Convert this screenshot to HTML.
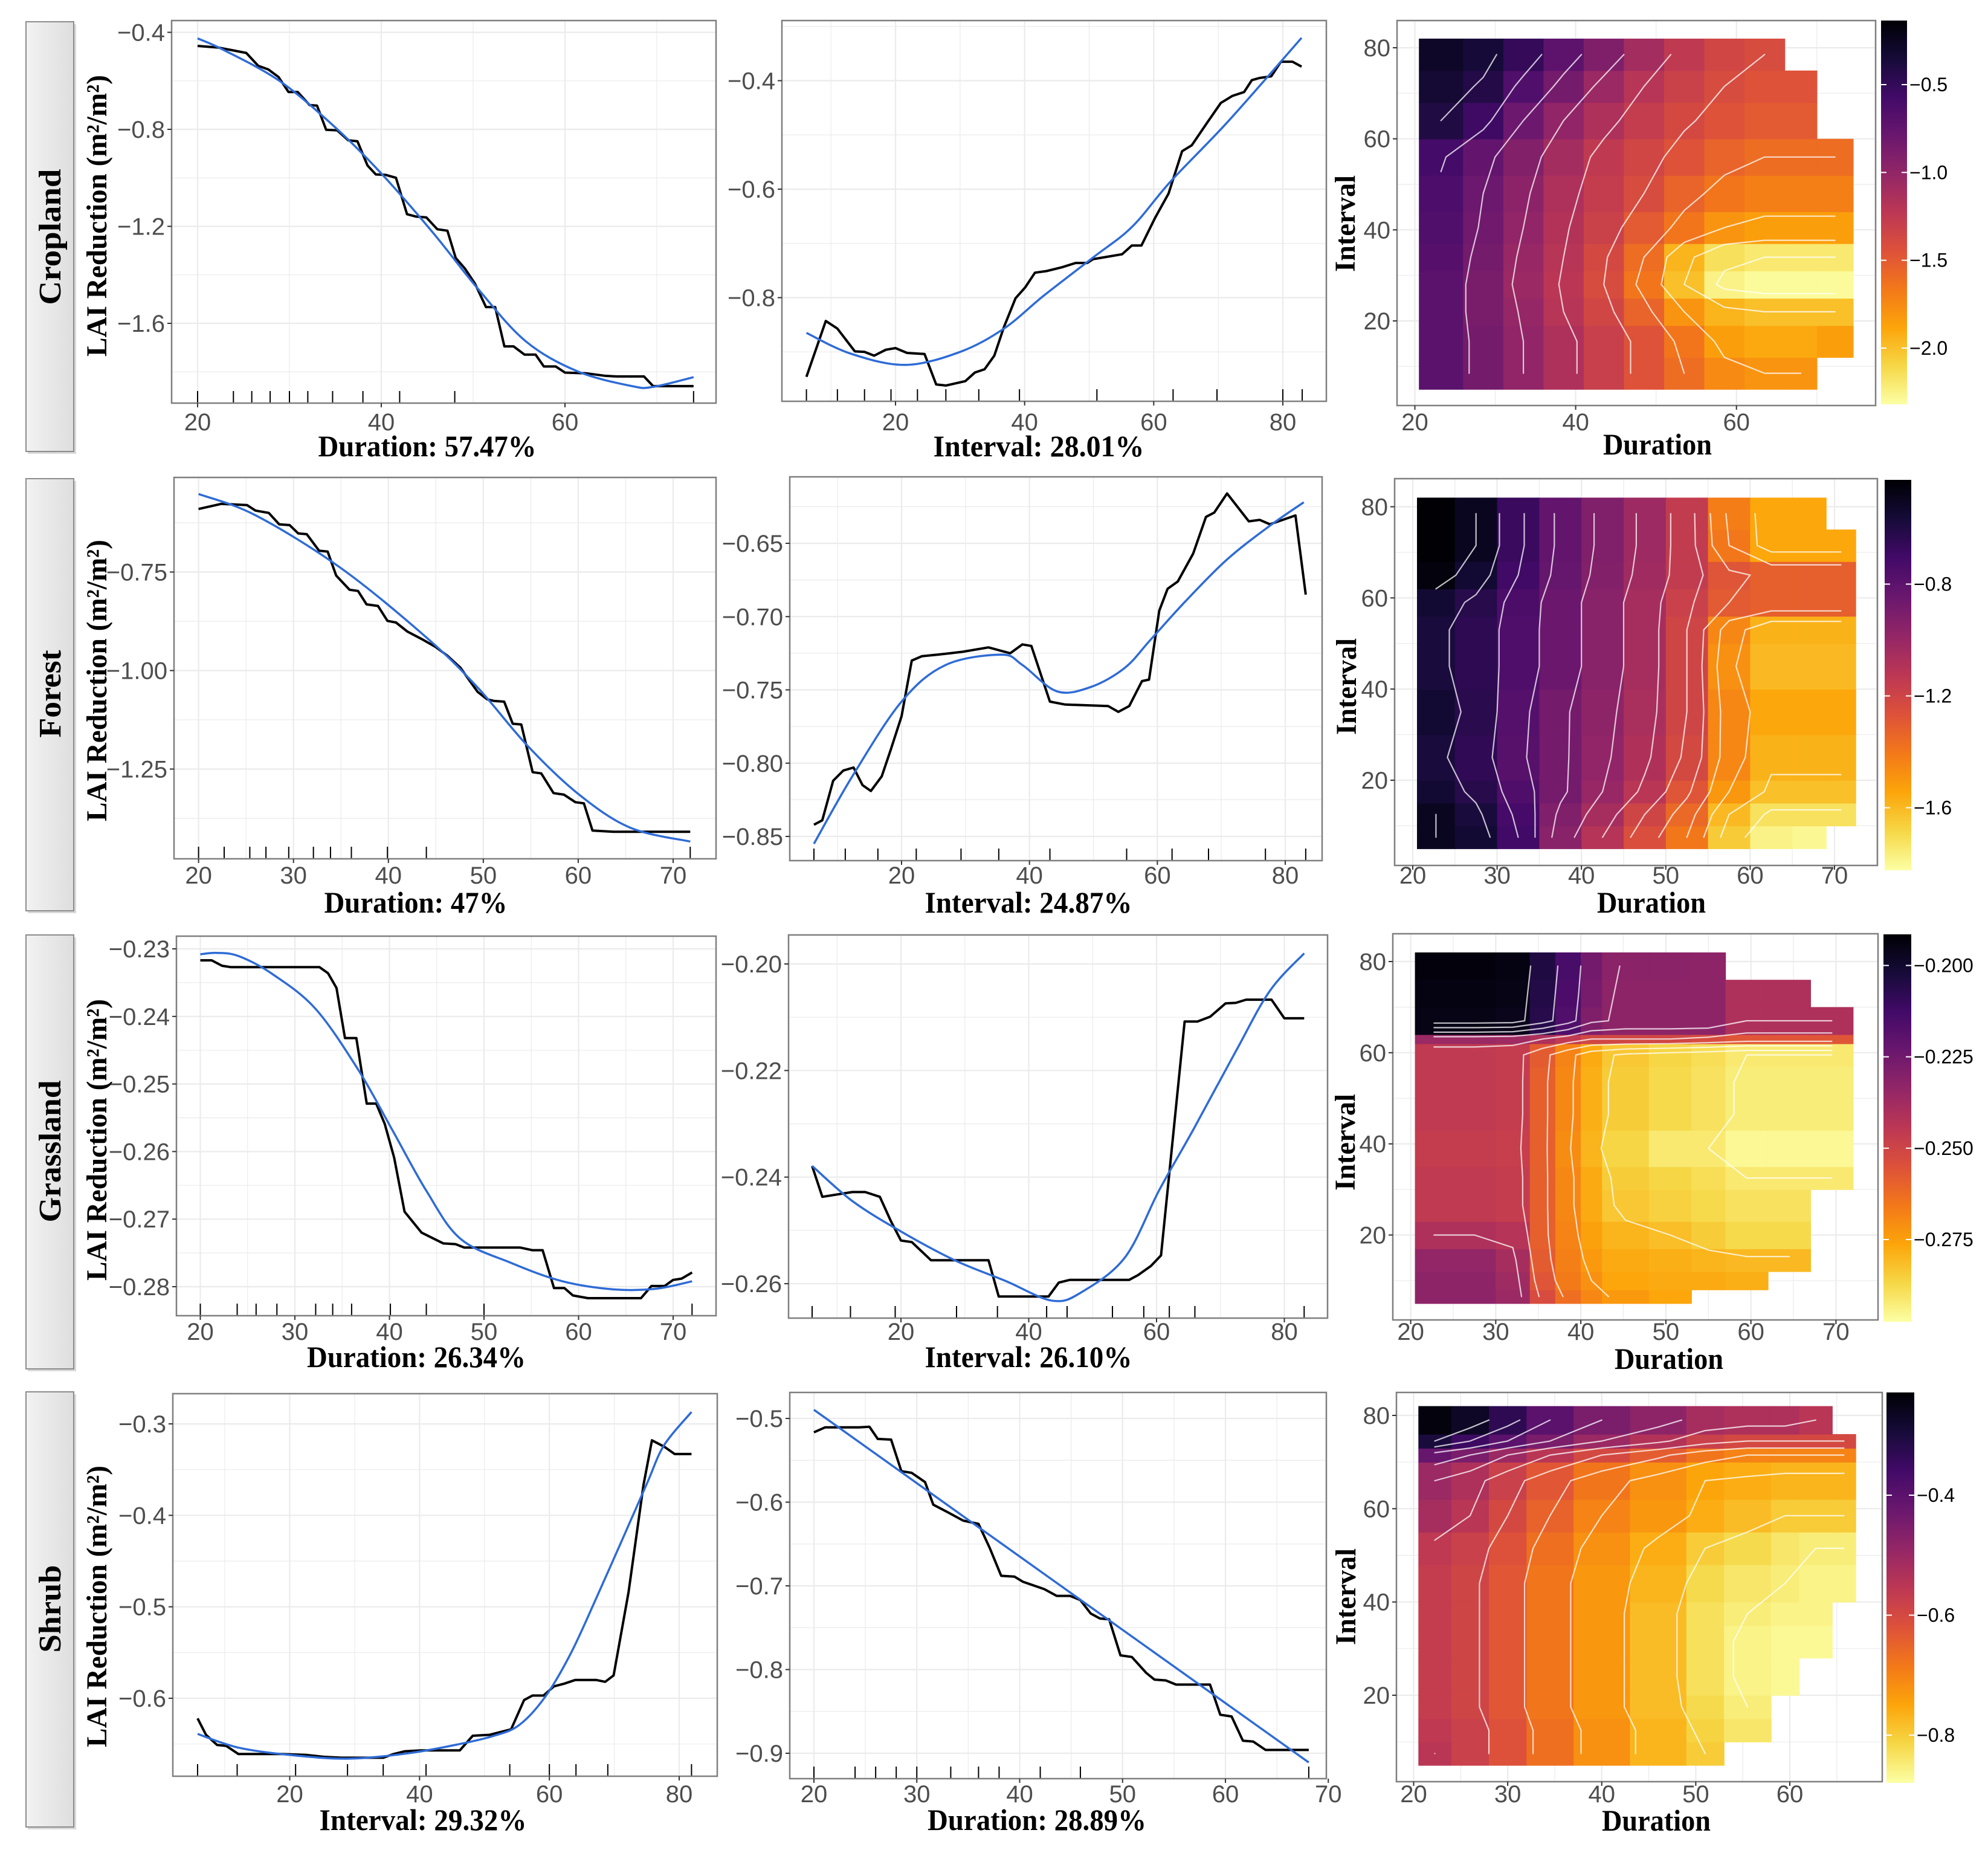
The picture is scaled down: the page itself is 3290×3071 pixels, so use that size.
<!DOCTYPE html>
<html><head><meta charset="utf-8"><style>
html,body{margin:0;padding:0;background:#fff;}
svg{display:block;}
</style></head><body>
<svg id="fig" xmlns="http://www.w3.org/2000/svg" width="3290" height="3071" viewBox="0 0 3290 3071">
<defs>
<linearGradient id="stripGrad" x1="0" x2="1" y1="0" y2="0"><stop offset="0" stop-color="#f2f2f2"/><stop offset="1" stop-color="#dedede"/></linearGradient>
<linearGradient id="cbGrad" x1="0" x2="0" y1="1" y2="0">
<stop offset="0" stop-color="#fcffa4"/><stop offset="0.1" stop-color="#f6d746"/><stop offset="0.2" stop-color="#fca50a"/><stop offset="0.3" stop-color="#f37819"/><stop offset="0.4" stop-color="#dd513a"/><stop offset="0.5" stop-color="#bc3754"/><stop offset="0.6" stop-color="#932667"/><stop offset="0.7" stop-color="#6a176e"/><stop offset="0.8" stop-color="#420a68"/><stop offset="0.9" stop-color="#160b39"/><stop offset="1" stop-color="#000004"/>
</linearGradient>
</defs>
</svg>
<script>
// ---------- DATA ----------
const r1c1_x=[20,22.3,25.3,26.6,27.7,28.8,29.9,30.9,32.2,33,34,35.2,36.4,37.4,38.5,39.4,40.5,41.6,42.8,43.8,44.9,46.1,47.2,48.1,49.1,50.2,51.4,52.4,53.4,54.4,55.6,56.8,57.7,59,60,62.3,64.3,65.6,68.6,69.6,74];
const r1c1_y=[-0.456,-0.463,-0.485,-0.538,-0.553,-0.584,-0.646,-0.646,-0.700,-0.702,-0.802,-0.804,-0.845,-0.849,-0.949,-0.986,-0.988,-1.000,-1.150,-1.160,-1.163,-1.212,-1.218,-1.330,-1.374,-1.436,-1.533,-1.533,-1.695,-1.695,-1.729,-1.729,-1.778,-1.778,-1.803,-1.806,-1.816,-1.819,-1.819,-1.859,-1.859];
const r1c1_fx=[20,22.8,28.9,34.9,40,45.6,50.6,55.7,61.3,67.3,69.6,74];
const r1c1_fy=[-0.425,-0.472,-0.600,-0.789,-0.982,-1.225,-1.461,-1.673,-1.797,-1.859,-1.862,-1.822];
const r1c1_rug=[20,23.9,25.9,27.9,30,32,34.7,38,42,48,74];

const r1c2_x=[6.2,9.2,11,13.7,15.2,16.7,18.5,20,21.8,24.5,26.3,27.8,30.8,32.3,33.8,35.3,36.8,38.6,40.1,41.6,43.4,45.8,47.9,49.7,50.6,52.1,55.1,56.6,58.1,60.2,62.3,64.4,65.9,68.3,70.4,72.2,74,75.2,76.4,78.2,79.7,81.5,82.9];
const r1c2_y=[-0.946,-0.843,-0.857,-0.899,-0.900,-0.907,-0.896,-0.893,-0.902,-0.904,-0.960,-0.962,-0.954,-0.938,-0.932,-0.907,-0.854,-0.801,-0.781,-0.754,-0.751,-0.744,-0.736,-0.736,-0.729,-0.726,-0.720,-0.704,-0.704,-0.653,-0.608,-0.530,-0.519,-0.477,-0.441,-0.428,-0.421,-0.399,-0.395,-0.392,-0.365,-0.365,-0.374];
const r1c2_fx=[6.2,13,21.5,30,36.8,43,50.6,56.6,62.6,71.6,82.9];
const r1c2_fy=[-0.865,-0.903,-0.924,-0.900,-0.857,-0.796,-0.726,-0.670,-0.586,-0.474,-0.321];
const r1c2_rug=[6.2,11,15.2,19.3,23.4,27.8,32.9,39.2,51.2,63,69.8,80,83];

const r2c1_x=[20,22.4,25.1,26,27.4,28.5,29.6,30.5,31.4,32.7,33.6,34.5,35.9,36.8,37.7,38.9,39.9,40.8,42,43.5,44.9,46.2,47.6,48.5,49.4,50.4,51.1,52.2,53.1,54,55.2,56.1,57.4,58.5,59.7,60.6,61.5,63.7,71.8];
const r2c1_y=[-0.590,-0.577,-0.580,-0.594,-0.600,-0.629,-0.631,-0.652,-0.654,-0.696,-0.698,-0.759,-0.795,-0.798,-0.832,-0.836,-0.874,-0.878,-0.901,-0.920,-0.939,-0.962,-0.993,-1.024,-1.054,-1.073,-1.077,-1.079,-1.135,-1.137,-1.258,-1.261,-1.311,-1.315,-1.334,-1.337,-1.406,-1.409,-1.409];
const r2c1_fx=[20,26,35,44,49.4,54.7,60.1,65.5,71.8];
const r2c1_fy=[-0.552,-0.606,-0.740,-0.916,-1.043,-1.192,-1.315,-1.399,-1.434];
const r2c1_rug=[20,22.7,25.4,27.1,29.5,32.1,33.9,36.1,39.9,44,71.8];

const r2c2_x=[6.3,7.6,9.3,10.9,12.5,13.9,15.2,16.9,18.3,20,21.6,23.2,25.6,27.6,29.6,33.6,37,38.9,40.3,43.2,45.6,52.3,53.9,55.6,57.6,58.7,60.3,61.6,63.2,65.6,67.6,68.9,70.9,74.3,76,77.6,81.6,83.2];
const r2c2_y=[-0.842,-0.839,-0.812,-0.805,-0.803,-0.815,-0.819,-0.809,-0.791,-0.768,-0.730,-0.727,-0.726,-0.725,-0.724,-0.721,-0.725,-0.719,-0.720,-0.758,-0.760,-0.761,-0.765,-0.761,-0.744,-0.743,-0.696,-0.681,-0.676,-0.657,-0.632,-0.629,-0.616,-0.635,-0.634,-0.637,-0.631,-0.685];
const r2c2_fx=[6.3,12.3,20,26.9,35.6,38.9,44.3,49.6,54.9,58.9,64.3,70.9,77.6,82.9];
const r2c2_fy=[-0.855,-0.809,-0.758,-0.733,-0.726,-0.733,-0.751,-0.748,-0.735,-0.716,-0.690,-0.661,-0.638,-0.622];
const r2c2_rug=[6.3,11.2,16.3,22.3,29.3,35.2,43.2,55.2,62.3,68,76.9,83.2];

const r3c1_x=[20,21.2,22.3,23.2,32.6,33.5,34.4,35.3,36.5,37.6,38.6,39.5,40.5,41.6,43.4,45.7,47,47.9,53.8,55.1,56.2,57.4,58.5,59.4,61,66.6,67.7,69.1,70,70.9,72];
const r3c1_y=[-0.2317,-0.2317,-0.2325,-0.2327,-0.2327,-0.2336,-0.2358,-0.2432,-0.2432,-0.2529,-0.2529,-0.2559,-0.2609,-0.2689,-0.2720,-0.2736,-0.2737,-0.2742,-0.2742,-0.2746,-0.2746,-0.2802,-0.2802,-0.2813,-0.2817,-0.2817,-0.2799,-0.2799,-0.2790,-0.2788,-0.2779];
const r3c1_fx=[20,21.8,24.1,27.7,32.2,36.7,40.3,43.9,47.5,52.9,58.3,63.7,68.2,72];
const r3c1_fy=[-0.2308,-0.2306,-0.2311,-0.2338,-0.2389,-0.2479,-0.2568,-0.2658,-0.2729,-0.2765,-0.2792,-0.2804,-0.2803,-0.2792];
const r3c1_rug=[20,23.9,25.9,28.1,32.2,34,36,40.1,43.9,50,72];

const r3c2_x=[6.1,7.7,12.4,14.4,16.7,18.4,20,21.7,24.7,33.7,35.3,43.1,44.7,46.4,55.7,57.1,59.1,60.7,64.4,66.4,68.4,70.8,72.4,74,78,80,83.1];
const r3c2_y=[-0.2379,-0.2437,-0.2428,-0.2428,-0.2437,-0.2482,-0.2519,-0.2522,-0.2556,-0.2556,-0.2624,-0.2624,-0.2598,-0.2593,-0.2593,-0.2584,-0.2567,-0.2547,-0.2108,-0.2108,-0.2099,-0.2074,-0.2073,-0.2067,-0.2067,-0.2102,-0.2102];
const r3c2_fx=[6.1,12.4,20,28.4,36.4,43.7,48.4,55.1,60.4,65.7,72.4,77.7,83.1];
const r3c2_fy=[-0.2379,-0.2445,-0.2502,-0.2556,-0.2595,-0.2632,-0.2615,-0.2550,-0.2425,-0.2312,-0.2164,-0.2051,-0.1980];
const r3c2_rug=[6.1,12.1,19.1,28.7,35.1,42.8,46,53.1,58,62,66,83.1];

const r4c1_x=[5.8,7.1,8.8,10.2,12.1,18.7,22.6,25.2,27.9,34.4,36,37.7,40.3,46.2,48.2,50.8,54.1,56.1,57.4,59.1,60.7,62.3,64,67.2,68.6,69.9,72.2,74.5,75.8,77.7,79.3,81.9];
const r4c1_y=[-0.622,-0.640,-0.651,-0.652,-0.661,-0.661,-0.662,-0.664,-0.665,-0.665,-0.661,-0.658,-0.657,-0.657,-0.641,-0.640,-0.634,-0.602,-0.597,-0.597,-0.587,-0.584,-0.580,-0.580,-0.582,-0.575,-0.484,-0.367,-0.318,-0.325,-0.333,-0.333];
const r4c1_fx=[5.8,12.1,20,29.2,38.4,46.2,51.5,55.4,59.4,63.3,67.2,71.2,75.1,77.7,81.9];
const r4c1_fy=[-0.639,-0.654,-0.662,-0.666,-0.660,-0.650,-0.641,-0.629,-0.598,-0.551,-0.491,-0.427,-0.364,-0.323,-0.287];
const r4c1_rug=[5.8,11.9,20.9,28.9,34.4,41,53.9,60,64.1,69,81.9];

const r4c2_x=[20,21.1,24.4,25.4,26.2,27.5,28.5,29.5,30.8,31.6,33,34.5,36,37.1,38.2,39.5,40.3,42.4,43.6,44.9,45.9,46.9,47.8,48.7,49.8,50.9,52.3,53.1,54.2,55.2,58.5,59.5,60.6,61.7,62.7,63.9,68.1];
const r4c2_y=[-0.5165,-0.5106,-0.5106,-0.510,-0.5245,-0.5253,-0.563,-0.565,-0.576,-0.603,-0.612,-0.622,-0.626,-0.655,-0.688,-0.689,-0.695,-0.704,-0.712,-0.712,-0.717,-0.733,-0.739,-0.740,-0.783,-0.785,-0.804,-0.812,-0.813,-0.818,-0.818,-0.854,-0.856,-0.885,-0.886,-0.896,-0.896];
const r4c2_fx=[20,44,68.1];
const r4c2_fy=[-0.4897,-0.700,-0.911];
const r4c2_rug=[20,24,26,28,30,33.3,36,38,42,45.9,68.1];

// tick labels
const r1c1_xt=[20,40,60], r1c1_yt=[-0.4,-0.8,-1.2,-1.6], r1c1_ytl=["\u22120.4","\u22120.8","\u22121.2","\u22121.6"];
const r1c2_xt=[20,40,60,80], r1c2_yt=[-0.4,-0.6,-0.8], r1c2_ytl=["\u22120.4","\u22120.6","\u22120.8"];
const r2c1_xt=[20,30,40,50,60,70], r2c1_yt=[-0.75,-1.0,-1.25], r2c1_ytl=["\u22120.75","\u22121.00","\u22121.25"];
const r2c2_xt=[20,40,60,80], r2c2_yt=[-0.65,-0.70,-0.75,-0.80,-0.85], r2c2_ytl=["\u22120.65","\u22120.70","\u22120.75","\u22120.80","\u22120.85"];
const r3c1_xt=[20,30,40,50,60,70], r3c1_yt=[-0.23,-0.24,-0.25,-0.26,-0.27,-0.28], r3c1_ytl=["\u22120.23","\u22120.24","\u22120.25","\u22120.26","\u22120.27","\u22120.28"];
const r3c2_xt=[20,40,60,80], r3c2_yt=[-0.20,-0.22,-0.24,-0.26], r3c2_ytl=["\u22120.20","\u22120.22","\u22120.24","\u22120.26"];
const r4c1_xt=[20,40,60,80], r4c1_yt=[-0.3,-0.4,-0.5,-0.6], r4c1_ytl=["\u22120.3","\u22120.4","\u22120.5","\u22120.6"];
const r4c2_xt=[20,30,40,50,60,70], r4c2_yt=[-0.5,-0.6,-0.7,-0.8,-0.9], r4c2_ytl=["\u22120.5","\u22120.6","\u22120.7","\u22120.8","\u22120.9"];

// heatmaps
const h1_dur=[20.5,26,31,36,41,46,51,56,61,66,70,74.5];
const h1_int=[5,12,19,25,31,37,44,52,60,68,75,82];
const h1_val=[
[-0.70,-0.85,-1.00,-1.15,-1.30,-1.45,-1.60,-1.75,-1.80,-1.80,null],
[-0.70,-0.85,-1.00,-1.15,-1.30,-1.45,-1.65,-1.85,-1.90,-1.90,-1.85],
[-0.70,-0.87,-1.02,-1.20,-1.35,-1.55,-1.80,-1.95,-2.00,-2.00,-2.00],
[-0.70,-0.87,-1.05,-1.22,-1.40,-1.65,-2.00,-2.25,-2.30,-2.30,-2.30],
[-0.68,-0.85,-1.03,-1.20,-1.38,-1.60,-1.95,-2.15,-2.20,-2.20,-2.20],
[-0.65,-0.82,-1.00,-1.18,-1.32,-1.50,-1.65,-1.80,-1.85,-1.85,-1.85],
[-0.63,-0.80,-0.97,-1.15,-1.28,-1.40,-1.55,-1.65,-1.70,-1.70,-1.70],
[-0.58,-0.75,-0.92,-1.10,-1.25,-1.35,-1.45,-1.55,-1.60,-1.60,-1.60],
[-0.40,-0.55,-0.80,-1.00,-1.15,-1.28,-1.38,-1.45,-1.50,-1.50,null],
[-0.33,-0.42,-0.65,-0.85,-1.05,-1.20,-1.32,-1.40,-1.45,-1.45,null],
[-0.28,-0.35,-0.50,-0.72,-0.90,-1.10,-1.25,-1.35,-1.40,null,null]];
const h1_cb=[-0.5,-1.0,-1.5,-2.0], h1_cbl=["\u22120.5","\u22121.0","\u22121.5","\u22122.0"], h1_xt=[20,40,60], h1_yt=[20,40,60,80];
const h1_levels=[-0.4,-0.6,-0.8,-1.0,-1.2,-1.4,-1.6,-1.8,-2.0,-2.2];

const h2_dur=[20.5,25,30,35,40,45,50,55,60,65,69,72.5];
const h2_int=[5,10,15,20,30,40,50,56,62,68,75,82];
const h2_val=[
[-0.50,-0.55,-0.70,-0.95,-1.10,-1.25,-1.40,-1.65,-1.78,-1.80,null],
[-0.50,-0.58,-0.72,-0.92,-1.05,-1.20,-1.35,-1.60,-1.72,-1.72,-1.72],
[-0.55,-0.62,-0.75,-0.88,-1.00,-1.12,-1.28,-1.50,-1.62,-1.62,-1.62],
[-0.58,-0.65,-0.78,-0.88,-0.98,-1.08,-1.22,-1.45,-1.58,-1.58,-1.58],
[-0.55,-0.63,-0.77,-0.88,-0.97,-1.06,-1.20,-1.45,-1.55,-1.55,-1.55],
[-0.58,-0.64,-0.75,-0.85,-0.95,-1.05,-1.20,-1.48,-1.60,-1.60,-1.60],
[-0.58,-0.64,-0.75,-0.85,-0.95,-1.05,-1.20,-1.45,-1.58,-1.58,-1.58],
[-0.55,-0.62,-0.74,-0.85,-0.95,-1.05,-1.18,-1.30,-1.32,-1.32,-1.32],
[-0.45,-0.55,-0.70,-0.83,-0.93,-1.03,-1.15,-1.28,-1.32,-1.32,-1.32],
[-0.43,-0.50,-0.68,-0.82,-0.92,-1.02,-1.15,-1.40,-1.55,-1.55,-1.55],
[-0.43,-0.50,-0.68,-0.82,-0.92,-1.02,-1.15,-1.42,-1.55,-1.55,null]];
const h2_cb=[-0.8,-1.2,-1.6], h2_cbl=["\u22120.8","\u22121.2","\u22121.6"], h2_xt=[20,30,40,50,60,70], h2_yt=[20,40,60,80];
const h2_levels=[-0.5,-0.6,-0.7,-0.8,-0.9,-1.0,-1.1,-1.2,-1.3,-1.4,-1.5,-1.6,-1.7];

const h3_dur=[20.5,25,30,34,37,40,42.5,48,53,57,62,67,72];
const h3_int=[5,8,12,17,23,30,35,43,50,57,62,64,70,76,82];
const h3_val=[
[-0.232,-0.232,-0.235,-0.252,-0.262,-0.268,-0.272,-0.275,null,null,null,null],
[-0.232,-0.232,-0.236,-0.255,-0.265,-0.270,-0.275,-0.276,-0.276,-0.277,null,null],
[-0.233,-0.233,-0.238,-0.257,-0.266,-0.272,-0.276,-0.277,-0.278,-0.279,-0.279,null],
[-0.240,-0.240,-0.242,-0.258,-0.267,-0.274,-0.278,-0.280,-0.283,-0.286,-0.286,null],
[-0.245,-0.245,-0.246,-0.258,-0.268,-0.276,-0.282,-0.284,-0.286,-0.288,-0.288,null],
[-0.245,-0.245,-0.246,-0.258,-0.268,-0.276,-0.283,-0.285,-0.287,-0.290,-0.290,-0.290],
[-0.246,-0.246,-0.247,-0.258,-0.269,-0.278,-0.285,-0.290,-0.290,-0.294,-0.294,-0.294],
[-0.245,-0.245,-0.246,-0.258,-0.268,-0.277,-0.283,-0.286,-0.288,-0.291,-0.291,-0.291],
[-0.245,-0.245,-0.246,-0.258,-0.268,-0.277,-0.283,-0.286,-0.288,-0.291,-0.291,-0.291],
[-0.245,-0.245,-0.246,-0.257,-0.267,-0.276,-0.282,-0.285,-0.287,-0.290,-0.290,-0.290],
[-0.235,-0.235,-0.236,-0.240,-0.245,-0.250,-0.250,-0.250,-0.252,-0.255,-0.255,-0.255],
[-0.195,-0.195,-0.196,-0.206,-0.216,-0.228,-0.232,-0.232,-0.232,-0.240,-0.240,-0.240],
[-0.194,-0.194,-0.195,-0.205,-0.215,-0.226,-0.232,-0.232,-0.232,-0.240,-0.240,null],
[-0.193,-0.193,-0.194,-0.204,-0.214,-0.225,-0.231,-0.231,-0.232,null,null,null]];
const h3_cb=[-0.200,-0.225,-0.250,-0.275], h3_cbl=["\u22120.200","\u22120.225","\u22120.250","\u22120.275"], h3_xt=[20,30,40,50,60,70], h3_yt=[20,40,60,80];
const h3_levels=[-0.20,-0.21,-0.22,-0.23,-0.24,-0.25,-0.26,-0.27,-0.28,-0.29];

const h4_dur=[20.5,24,28,32,37,43,49,53,58,61,64.5,67];
const h4_int=[5,10,15,20,28,35,40,48,55,62,70,73,76,82];
const h4_val=[
[-0.55,-0.58,-0.62,-0.67,-0.72,-0.77,-0.80,null,null,null,null],
[-0.56,-0.58,-0.62,-0.67,-0.72,-0.77,-0.81,-0.84,null,null,null],
[-0.57,-0.59,-0.63,-0.68,-0.73,-0.78,-0.82,-0.85,null,null,null],
[-0.57,-0.59,-0.63,-0.68,-0.73,-0.78,-0.83,-0.86,-0.87,null,null],
[-0.57,-0.59,-0.63,-0.68,-0.73,-0.78,-0.83,-0.86,-0.87,-0.87,null],
[-0.57,-0.59,-0.63,-0.68,-0.73,-0.78,-0.83,-0.85,-0.86,-0.86,null],
[-0.57,-0.59,-0.63,-0.68,-0.73,-0.77,-0.82,-0.84,-0.85,-0.86,-0.86],
[-0.56,-0.58,-0.62,-0.67,-0.72,-0.76,-0.80,-0.82,-0.84,-0.85,-0.85],
[-0.52,-0.55,-0.60,-0.65,-0.70,-0.73,-0.76,-0.78,-0.80,-0.80,-0.80],
[-0.50,-0.53,-0.58,-0.63,-0.68,-0.72,-0.75,-0.76,-0.77,-0.77,-0.77],
[-0.42,-0.45,-0.50,-0.55,-0.60,-0.64,-0.68,-0.70,-0.70,-0.70,-0.70],
[-0.30,-0.35,-0.40,-0.45,-0.50,-0.54,-0.58,-0.60,-0.60,-0.60,-0.60],
[-0.24,-0.27,-0.33,-0.40,-0.45,-0.48,-0.52,-0.53,-0.53,-0.55,null]];
const h4_cb=[-0.4,-0.6,-0.8], h4_cbl=["\u22120.4","\u22120.6","\u22120.8"], h4_xt=[20,30,40,50,60], h4_yt=[20,40,60,80];
const h4_levels=[-0.30,-0.35,-0.40,-0.45,-0.50,-0.55,-0.60,-0.65,-0.70,-0.75,-0.80,-0.85];

// ---------- RENDER ----------
const NS="http://www.w3.org/2000/svg";
const svg=document.getElementById('fig');
function mk(tag,attrs,parent){const e=document.createElementNS(NS,tag);for(const k in attrs)e.setAttribute(k,attrs[k]);(parent||svg).appendChild(e);return e;}
function lin(d0,p0,d1,p1){return v=>p0+(v-d0)*(p1-p0)/(d1-d0);}
function inferno(t){
 const st=["#000004","#160b39","#420a68","#6a176e","#932667","#bc3754","#dd513a","#f37819","#fca50a","#f6d746","#fcffa4"];
 t=Math.max(0,Math.min(1,t));const f=t*10,i=Math.min(9,Math.floor(f)),u=f-i;
 const a=st[i],b=st[i+1];const c=k=>Math.round(parseInt(a.substr(k,2),16)*(1-u)+parseInt(b.substr(k,2),16)*u);
 return `rgb(${c(1)},${c(3)},${c(5)})`;}
function text(str,x,y,size,opts,name){
 const t=mk('text',Object.assign({x:x,y:y,'font-size':size,'font-family':'"Liberation Sans", Arial, sans-serif',fill:'#4d4d4d'},opts||{}));
 t.textContent=str;
 
 
 return t;}
function serif(str,x,y,size,len,rot,name){
 const a={x:0,y:0,'font-size':size,'font-family':'"Liberation Serif", "Times New Roman", serif','font-weight':'bold',fill:'#000','text-anchor':'middle',transform:`translate(${x},${y})`+(rot?' rotate(-90)':'')};
 if(len){a.textLength=len;a.lengthAdjust='spacingAndGlyphs';}
 const t=mk('text',a);t.textContent=str;
 
 
 return t;}
function smoothPath(pts){
 let d=`M${pts[0][0].toFixed(1)},${pts[0][1].toFixed(1)}`;
 for(let i=0;i<pts.length-1;i++){const p0=pts[i-1]||pts[i],p1=pts[i],p2=pts[i+1],p3=pts[i+2]||p2;
  d+=` C${(p1[0]+(p2[0]-p0[0])/6).toFixed(1)},${(p1[1]+(p2[1]-p0[1])/6).toFixed(1)} ${(p2[0]-(p3[0]-p1[0])/6).toFixed(1)},${(p2[1]-(p3[1]-p1[1])/6).toFixed(1)} ${p2[0].toFixed(1)},${p2[1].toFixed(1)}`;}
 return d;}

function gridAndFrame(box,sx,sy,xt,yt,g){
 const [L,T,R,B]=box;
 const dx=xt[1]-xt[0], dy=yt[1]-yt[0];
 const minor=[];
 for(let k=-6;k<=2*xt.length+6;k++){const v=xt[0]+dx*k/2;const p=sx(v);if(p>L&&p<R)minor.push([p,k%2===0]);}
 const ys=[];for(let k=-6;k<=2*yt.length+6;k++){const v=yt[0]+dy*k/2;const p=sy(v);if(p>T&&p<B)ys.push([p,k%2===0]);}
 minor.forEach(m=>{const l=mk('line',{x1:m[0],x2:m[0],y1:T,y2:B,stroke:'#ebebeb','stroke-width':m[1]?2.2:1.2},g);
  
  });
 ys.forEach(m=>{const l=mk('line',{x1:L,x2:R,y1:m[0],y2:m[0],stroke:'#ebebeb','stroke-width':m[1]?2.2:1.2},g);
  
  });
}
function frame(box,g){const [L,T,R,B]=box;
 const r=mk('rect',{x:L,y:T,width:R-L,height:B-T,fill:'none',stroke:'#7f7f7f','stroke-width':2.5},g);
 
 }
function axisLabels(box,sx,sy,xt,xtl,yt,ytl,tickBase,g,ysz){
 const [L,T,R,B]=box;
 xt.forEach((v,i)=>{const t=text(xtl?xtl[i]:String(v),sx(v),tickBase,40,{'text-anchor':'middle'},'x-tick-label');g.appendChild(t);
  const tk=mk('line',{x1:sx(v),x2:sx(v),y1:B,y2:B+7,stroke:'#333','stroke-width':2},g);
  
  });
 yt.forEach((v,i)=>{const t=text(ytl[i],L-11,sy(v)+14,ysz||40,{'text-anchor':'end'},'y-tick-label');g.appendChild(t);
  const tk=mk('line',{x1:L-7,x2:L,y1:sy(v),y2:sy(v),stroke:'#333','stroke-width':2},g);
  
  });
}

const linePanels=[
 {n:'cropland-duration',box:[284,34,1185,667],xs:[20,327,60,935],ys:[-0.4,53.5,-1.6,535],xt:r1c1_xt,yt:r1c1_yt,ytl:r1c1_ytl,bx:r1c1_x,by:r1c1_y,fx:r1c1_fx,fy:r1c1_fy,rug:r1c1_rug,title:'Duration: 57.47%',tx:707,ty:755,tl:361,tb:712},
 {n:'cropland-interval',box:[1294,34,2195,664],xs:[20,1482,80,2123],ys:[-0.4,133.5,-0.8,492.5],xt:r1c2_xt,yt:r1c2_yt,ytl:r1c2_ytl,bx:r1c2_x,by:r1c2_y,fx:r1c2_fx,fy:r1c2_fy,rug:r1c2_rug,title:'Interval: 28.01%',tx:1719,ty:755,tl:349,tb:712},
 {n:'forest-duration',box:[288,790,1185,1421],xs:[20,328.6,70,1114],ys:[-0.75,946.5,-1.25,1272.5],xt:r2c1_xt,yt:r2c1_yt,ytl:r2c1_ytl,bx:r2c1_x,by:r2c1_y,fx:r2c1_fx,fy:r2c1_fy,rug:r2c1_rug,title:'Duration: 47%',tx:688,ty:1510,tl:303,tb:1462},
 {n:'forest-interval',box:[1307,789,2188,1424],xs:[20,1492,80,2127],ys:[-0.65,899,-0.85,1384],xt:r2c2_xt,yt:r2c2_yt,ytl:r2c2_ytl,bx:r2c2_x,by:r2c2_y,fx:r2c2_fx,fy:r2c2_fy,rug:r2c2_rug,title:'Interval: 24.87%',tx:1702,ty:1510,tl:343,tb:1462},
 {n:'grassland-duration',box:[292,1549,1185,2177],xs:[20,331.5,70,1114],ys:[-0.23,1570,-0.28,2129],xt:r3c1_xt,yt:r3c1_yt,ytl:r3c1_ytl,bx:r3c1_x,by:r3c1_y,fx:r3c1_fx,fy:r3c1_fy,rug:r3c1_rug,title:'Duration: 26.34%',tx:689,ty:2262,tl:362,tb:2217},
 {n:'grassland-interval',box:[1305,1547,2197,2181],xs:[20,1491,80,2125.5],ys:[-0.20,1595,-0.26,2124],xt:r3c2_xt,yt:r3c2_yt,ytl:r3c2_ytl,bx:r3c2_x,by:r3c2_y,fx:r3c2_fx,fy:r3c2_fy,rug:r3c2_rug,title:'Interval: 26.10%',tx:1702,ty:2262,tl:343,tb:2217},
 {n:'shrub-interval',box:[286,2306,1187,2939],xs:[20,479.5,80,1124],ys:[-0.3,2356,-0.6,2810],xt:r4c1_xt,yt:r4c1_yt,ytl:r4c1_ytl,bx:r4c1_x,by:r4c1_y,fx:r4c1_fx,fy:r4c1_fy,rug:r4c1_rug,title:'Interval: 29.32%',tx:700,ty:3028,tl:343,tb:2982},
 {n:'shrub-duration',box:[1307,2304,2195,2943],xs:[20,1347,60,2028],ys:[-0.5,2347,-0.9,2901],xt:r4c2_xt,yt:r4c2_yt,ytl:r4c2_ytl,bx:r4c2_x,by:r4c2_y,fx:r4c2_fx,fy:r4c2_fy,rug:r4c2_rug,title:'Duration: 28.89%',tx:1716,ty:3028,tl:362,tb:2982}
];
linePanels.forEach(P=>{
 const g=mk('g',{});
 
 
 const sx=lin(P.xs[0],P.xs[1],P.xs[2],P.xs[3]), sy=lin(P.ys[0],P.ys[1],P.ys[2],P.ys[3]);
 const [L,T,R,B]=P.box;
 const bg=mk('rect',{x:L,y:T,width:R-L,height:B-T,fill:'#fff'},g);
 
 
 gridAndFrame(P.box,sx,sy,P.xt,P.yt,g);
 P.rug.forEach(v=>{const l=mk('line',{x1:sx(v),x2:sx(v),y1:B,y2:B-20,stroke:'#000','stroke-width':2},g);
  
  });
 const pts=P.bx.map((v,i)=>`${sx(v).toFixed(1)},${sy(P.by[i]).toFixed(1)}`).join(' ');
 const pl=mk('polyline',{points:pts,fill:'none',stroke:'#000','stroke-width':4,'stroke-linejoin':'round'},g);
 
 
 const fp=smoothPath(P.fx.map((v,i)=>[sx(v),sy(P.fy[i])]));
 const bl=mk('path',{d:fp,fill:'none',stroke:'#2e6bd6','stroke-width':3.5},g);
 
 
 frame(P.box,g);
 axisLabels(P.box,sx,sy,P.xt,null,P.yt,P.ytl,P.tb,g);
 const tt=serif(P.title,P.tx,P.ty,50,P.tl,false,'x-axis-title');g.appendChild(tt);
});

function contourSegs(dur,int,val,level,sx,sy){
 // cell-center grid
 const cx=[],cy=[];for(let c=0;c<dur.length-1;c++)cx.push(sx((dur[c]+dur[c+1])/2));
 for(let r=0;r<int.length-1;r++)cy.push(sy((int[r]+int[r+1])/2));
 let d='';
 const ip=(a,b,va,vb)=>a+(b-a)*(level-va)/(vb-va);
 for(let r=0;r<val.length-1;r++)for(let c=0;c<val[r].length-1;c++){
  const v0=val[r][c],v1=val[r][c+1],v2=val[r+1][c+1],v3=val[r+1][c];
  if(v0===null||v1===null||v2===null||v3===null)continue;
  const pts=[];
  const edges=[[v0,v1,[cx[c],cy[r]],[cx[c+1],cy[r]]],[v1,v2,[cx[c+1],cy[r]],[cx[c+1],cy[r+1]]],[v2,v3,[cx[c+1],cy[r+1]],[cx[c],cy[r+1]]],[v3,v0,[cx[c],cy[r+1]],[cx[c],cy[r]]]];
  edges.forEach(e=>{const [a,b,pa,pb]=e;if((a<level)!==(b<level)){pts.push([ip(pa[0],pb[0],a,b),ip(pa[1],pb[1],a,b)]);}});
  for(let k=0;k+1<pts.length;k+=2)d+=`M${pts[k][0].toFixed(1)},${pts[k][1].toFixed(1)}L${pts[k+1][0].toFixed(1)},${pts[k+1][1].toFixed(1)}`;
 }
 return d;
}

const heatPanels=[
 {n:'cropland-heatmap',box:[2312,34,3104,671],cb:[3113,34,3156,669],xs:[20,2341.5,60,2873.7],ys:[80,79,20,531],cs:[-0.5,140,-2.0,576],crng:[-2.32,-0.134],dur:h1_dur,int:h1_int,val:h1_val,lev:h1_levels,cbt:h1_cb,cbl:h1_cbl,xt:h1_xt,yt:h1_yt,tx:2743,ty:752,ix:2242,iy:370,tb:712},
 {n:'forest-heatmap',box:[2308,792,3107,1432],cb:[3119,794,3163,1440],xs:[20,2338,70,3036],ys:[80,838.5,20,1291],cs:[-0.8,966.5,-1.6,1336.5],crng:[-1.824,-0.427],dur:h2_dur,int:h2_int,val:h2_val,lev:h2_levels,cbt:h2_cb,cbl:h2_cbl,xt:h2_xt,yt:h2_yt,tx:2733,ty:1510,ix:2244,iy:1136,tb:1462},
 {n:'grassland-heatmap',box:[2305,1545,3108,2184],cb:[3117,1546,3163,2187],xs:[20,2334.6,70,3038.4],ys:[80,1591,20,2043.5],cs:[-0.2,1597.5,-0.275,2051],crng:[-0.2957,-0.1915],dur:h3_dur,int:h3_int,val:h3_val,lev:h3_levels,cbt:h3_cb,cbl:h3_cbl,xt:h3_xt,yt:h3_yt,tx:2762,ty:2265,ix:2242,iy:1890,tb:2217},
 {n:'shrub-heatmap',box:[2311,2304,3115,2948],cb:[3122,2304,3168,2950],xs:[20,2339.5,60,2962],ys:[80,2342,20,2805],cs:[-0.4,2474,-0.8,2871],crng:[-0.880,-0.229],dur:h4_dur,int:h4_int,val:h4_val,lev:h4_levels,cbt:h4_cb,cbl:h4_cbl,xt:h4_xt,yt:h4_yt,tx:2741,ty:3029,ix:2243,iy:2642,tb:2982}
];
heatPanels.forEach(P=>{
 const g=mk('g',{});
 
 
 const sx=lin(P.xs[0],P.xs[1],P.xs[2],P.xs[3]), sy=lin(P.ys[0],P.ys[1],P.ys[2],P.ys[3]);
 const [L,T,R,B]=P.box;
 const bg=mk('rect',{x:L,y:T,width:R-L,height:B-T,fill:'#fff'},g);
 
 
 gridAndFrame(P.box,sx,sy,P.xt,P.yt,g);
 const [vmin,vmax]=P.crng;
 P.val.forEach((row,r)=>row.forEach((v,c)=>{
  if(v===null)return;
  const x0=sx(P.dur[c]),x1=sx(P.dur[c+1]),y0=sy(P.int[r+1]),y1=sy(P.int[r]);
  const cell=mk('rect',{x:x0.toFixed(1),y:y0.toFixed(1),width:(x1-x0+0.8).toFixed(1),height:(y1-y0+0.8).toFixed(1),fill:inferno(1-(v-vmin)/(vmax-vmin))},g);
  
  
 }));
 P.lev.forEach(lv=>{
  const d=contourSegs(P.dur,P.int,P.val,lv,sx,sy);
  if(!d)return;
  const cp=mk('path',{d:d,fill:'none',stroke:'#ffffff','stroke-opacity':0.75,'stroke-width':2.2,'stroke-linecap':'round'},g);
  
  
 });
 frame(P.box,g);
 axisLabels(P.box,sx,sy,P.xt,null,P.yt,P.yt.map(String),P.tb,g);
 const cb=P.cb;
 const cbr=mk('rect',{x:cb[0],y:cb[1],width:cb[2]-cb[0],height:cb[3]-cb[1],fill:'url(#cbGrad)'},g);
 
 
 const cs=lin(P.cs[0],P.cs[1],P.cs[2],P.cs[3]);
 P.cbt.forEach((v,i)=>{const y=cs(v);
  const t1=mk('line',{x1:cb[0],x2:cb[0]+9,y1:y,y2:y,stroke:'#fff','stroke-width':2},g);
  
  
  const t2=mk('line',{x1:cb[2]-9,x2:cb[2],y1:y,y2:y,stroke:'#fff','stroke-width':2},g);
  
  
  const lb=text(P.cbl[i],cb[2]+4,y+11,32,{fill:'#000'},'colorbar-label');g.appendChild(lb);});
 const tt=serif('Duration',P.tx,P.ty,50,180,false,'x-axis-title');g.appendChild(tt);
 const it=serif('Interval',P.ix,P.iy,48,160,true,'y-axis-title');g.appendChild(it);
});

// strips and y titles
const strips=[
 {lab:'Cropland',y0:36,y1:747,cy:392,len:225,yt:357},
 {lab:'Forest',y0:792,y1:1507,cy:1148,len:145,yt:1126},
 {lab:'Grassland',y0:1547,y1:2265,cy:1905,len:235,yt:1886},
 {lab:'Shrub',y0:2303,y1:3023,cy:2662,len:145,yt:2658}
];
strips.forEach(S=>{
 const sh=mk('rect',{x:46,y:S.y0+4,width:80,height:S.y1-S.y0,fill:'#d9d9d9'});
 
 
 const r=mk('rect',{x:43,y:S.y0,width:79,height:S.y1-S.y0,fill:'url(#stripGrad)',stroke:'#8c8c8c','stroke-width':2});
 
 
 serif(S.lab,100,S.cy,52,S.len,true,'row-label');
 serif('LAI Reduction (m\u00b2/m\u00b2)',176,S.yt,48,466,true,'y-axis-title');
});
</script>
</body></html>
